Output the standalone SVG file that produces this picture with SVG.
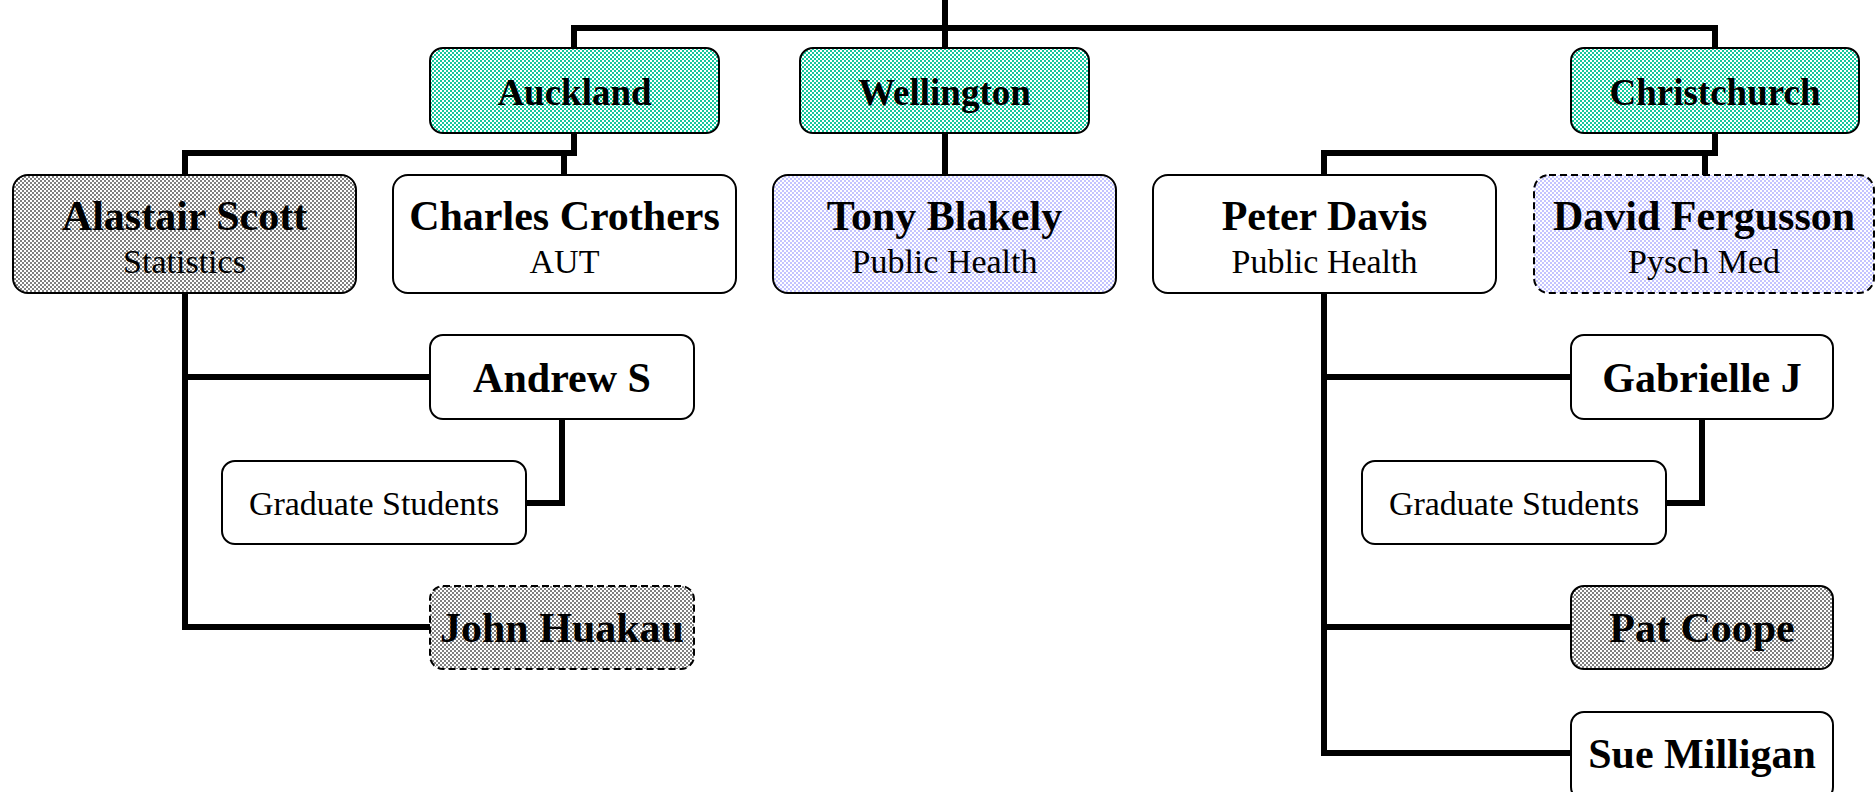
<svg xmlns="http://www.w3.org/2000/svg" width="1876" height="792" viewBox="0 0 1876 792">
<defs>
<pattern id="pTeal" width="4" height="4" patternUnits="userSpaceOnUse">
<rect width="4" height="4" fill="#ffffff"/>
<rect width="2" height="2" fill="#14c79c"/>
<rect x="2" y="2" width="2" height="2" fill="#14c79c"/>
</pattern>
<pattern id="pGray" width="4" height="4" patternUnits="userSpaceOnUse">
<rect width="4" height="4" fill="#ffffff"/>
<rect width="2" height="2" fill="#808080"/>
<rect x="2" y="2" width="2" height="2" fill="#808080"/>
</pattern>
<pattern id="pLav" width="4" height="4" patternUnits="userSpaceOnUse">
<rect width="4" height="4" fill="#ffffff"/>
<rect width="2" height="2" fill="#c4c4ff"/>
<rect x="2" y="2" width="2" height="2" fill="#c4c4ff"/>
</pattern>
</defs>
<style>
.box{stroke:#000;stroke-width:2;}
.w{fill:#fff;}
.teal{fill:url(#pTeal);}
.gray{fill:url(#pGray);}
.lav{fill:url(#pLav);}
.dash{stroke-dasharray:7 4;}
.name{font-family:"Liberation Serif","Times New Roman",serif;font-weight:bold;font-size:42px;text-anchor:middle;fill:#000;}
.city{font-family:"Liberation Serif","Times New Roman",serif;font-weight:bold;font-size:37px;text-anchor:middle;fill:#000;}
.sub{font-family:"Liberation Serif","Times New Roman",serif;font-size:34px;text-anchor:middle;fill:#000;}
.conn{fill:none;stroke:#000;stroke-width:6;stroke-linejoin:miter;stroke-linecap:square;}
</style>
<rect width="1876" height="792" fill="#ffffff"/>
<g id="connectors">
<path class="conn" d="M945,0 V28"/>
<path class="conn" d="M574,48 V28 H1715 V48"/>
<path class="conn" d="M945,28 V48"/>
<path class="conn" d="M574,133 V153 H185 V175"/>
<path class="conn" d="M564,153 V175"/>
<path class="conn" d="M945,133 V175"/>
<path class="conn" d="M1715,133 V153 H1324 V175"/>
<path class="conn" d="M1705,153 V175"/>
<path class="conn" d="M185,293 V627 H430"/>
<path class="conn" d="M185,377 H430"/>
<path class="conn" d="M562,419 V503 H526"/>
<path class="conn" d="M1324,293 V753 H1571"/>
<path class="conn" d="M1324,377 H1571"/>
<path class="conn" d="M1324,627 H1571"/>
<path class="conn" d="M1702,419 V503 H1666"/>
</g>
<g id="auckland">
<rect class="box teal" x="430" y="48" width="289" height="85" rx="13"/>
<text class="city" x="574.5" y="105">Auckland</text>
</g>
<g id="wellington">
<rect class="box teal" x="800" y="48" width="289" height="85" rx="13"/>
<text class="city" x="944.5" y="105">Wellington</text>
</g>
<g id="christchurch">
<rect class="box teal" x="1571" y="48" width="288" height="85" rx="13"/>
<text class="city" x="1715" y="105">Christchurch</text>
</g>
<g id="alastair-scott">
<rect class="box gray" x="13" y="175" width="343" height="118" rx="15"/>
<text class="name" x="184.5" y="230">Alastair Scott</text>
<text class="sub" x="184.5" y="273">Statistics</text>
</g>
<g id="charles-crothers">
<rect class="box w" x="393" y="175" width="343" height="118" rx="15"/>
<text class="name" x="564.5" y="230">Charles Crothers</text>
<text class="sub" x="564.5" y="273">AUT</text>
</g>
<g id="tony-blakely">
<rect class="box lav" x="773" y="175" width="343" height="118" rx="15"/>
<text class="name" x="944.5" y="230">Tony Blakely</text>
<text class="sub" x="944.5" y="273">Public Health</text>
</g>
<g id="peter-davis">
<rect class="box w" x="1153" y="175" width="343" height="118" rx="15"/>
<text class="name" x="1324.5" y="230">Peter Davis</text>
<text class="sub" x="1324.5" y="273">Public Health</text>
</g>
<g id="david-fergusson">
<rect class="box lav dash" x="1534" y="175" width="340" height="118" rx="15"/>
<text class="name" x="1704" y="230">David Fergusson</text>
<text class="sub" x="1704" y="273">Pysch Med</text>
</g>
<g id="andrew-s">
<rect class="box w" x="430" y="335" width="264" height="84" rx="13"/>
<text class="name" x="562" y="392">Andrew S</text>
</g>
<g id="graduate-students-1">
<rect class="box w" x="222" y="461" width="304" height="83" rx="13"/>
<text class="sub" x="374" y="515">Graduate Students</text>
</g>
<g id="john-huakau">
<rect class="box gray dash" x="430" y="586" width="264" height="83" rx="13"/>
<text class="name" x="562" y="642">John Huakau</text>
</g>
<g id="gabrielle-j">
<rect class="box w" x="1571" y="335" width="262" height="84" rx="13"/>
<text class="name" x="1702" y="392">Gabrielle J</text>
</g>
<g id="graduate-students-2">
<rect class="box w" x="1362" y="461" width="304" height="83" rx="13"/>
<text class="sub" x="1514" y="515">Graduate Students</text>
</g>
<g id="pat-coope">
<rect class="box gray" x="1571" y="586" width="262" height="83" rx="13"/>
<text class="name" x="1702" y="642">Pat Coope</text>
</g>
<g id="sue-milligan">
<rect class="box w" x="1571" y="712" width="262" height="88" rx="13"/>
<text class="name" x="1702" y="768">Sue Milligan</text>
</g>
</svg>
